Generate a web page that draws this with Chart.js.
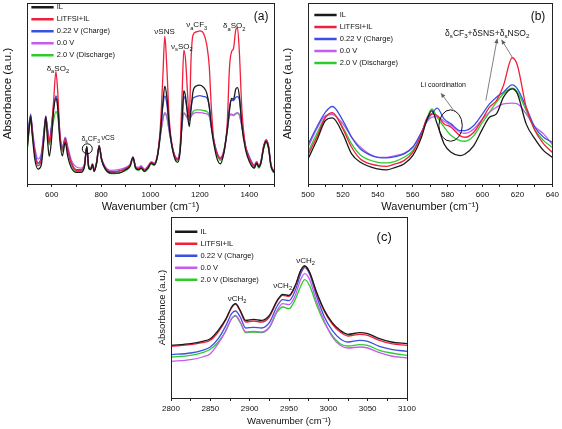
<!DOCTYPE html>
<html><head><meta charset="utf-8">
<script src="https://cdn.jsdelivr.net/npm/chart.js@4.4.1/dist/chart.umd.min.js"></script>
<style>
html,body{margin:0;padding:0;background:#fff;}
#wrap{position:relative;width:562px;height:429px;overflow:hidden;background:#fff;}
.p{position:absolute;}
</style></head><body>
<div id="wrap">
<div class="p" style="left:0;top:0;width:280px;height:220px"><canvas id="ca"></canvas></div>
<div class="p" style="left:280px;top:0;width:282px;height:220px"><canvas id="cb"></canvas></div>
<div class="p" style="left:130px;top:215px;width:300px;height:214px"><canvas id="cc"></canvas></div>
</div>
<script>
const FONT = 'Liberation Sans, Arial, Helvetica, sans-serif';
Chart.defaults.font.family = FONT;

const seriesNames = ['IL', 'LiTFSI+IL', '0.22 V (Charge)', '0.0 V', '2.0 V (Discharge)'];
const seriesColors = ['#1a1a1a', '#f0203c', '#3a50e0', '#c55cf0', '#2ccc2c'];

// ---------- Panel (a) ----------
const waveA = [500,508,515,522,532,545,558,568,576,583,590,598,608,617,624,633,643,655,665,680,
  700,720,733,742,750,758,765,772,782,792,802,815,840,870,900,918,929,940,952,962,
  975,990,1003,1015,1028,1040,1050,1058,1066,1076,1088,1100,1110,1120,1128,1135,1142,1150,1157,1164,
  1172,1185,1200,1215,1228,1238,1246,1256,1270,1283,1297,1310,1320,1328,1336,1345,1352,1360,1370,1385,
  1400,1420,1430,1438,1447,1458,1468,1478,1488,1500];
const a_IL = [98,163,203,143,73,45,58,133,203,133,83,123,223,258,233,133,85,125,83,48,
  35,35,53,113,48,43,58,38,63,113,73,48,33,33,43,55,80,48,43,48,
  38,48,63,58,83,153,243,295,263,173,108,73,65,98,193,281,263,208,173,223,
  278,295,298,291,273,233,173,123,75,61,93,158,223,258,255,285,290,263,173,103,
  68,48,63,51,63,108,128,108,53,35];
const a_LiTFSI = [103,168,203,153,88,55,73,143,201,158,123,158,253,338,283,153,103,135,103,63,
  41,41,58,110,51,45,60,41,66,116,75,51,36,38,46,58,81,50,46,51,
  41,51,65,61,85,173,323,445,353,193,113,81,73,113,273,403,373,273,193,373,
  448,458,461,453,418,353,233,133,91,75,98,173,353,398,408,463,471,393,223,113,
  78,53,65,53,66,113,133,113,56,38];
const a_Charge = [123,178,210,158,98,63,83,153,205,163,128,168,233,265,248,148,108,138,103,63,
  43,43,58,111,51,45,60,41,66,116,75,51,37,39,47,58,81,50,46,51,
  41,51,65,61,85,153,233,265,243,168,113,81,75,108,193,263,253,218,198,233,
  258,263,266,263,260,233,183,133,93,77,98,163,233,253,251,261,263,253,183,113,
  80,55,65,53,66,113,133,113,56,38];
const a_Zero = [123,178,205,163,108,75,93,153,198,168,133,163,233,261,243,153,113,141,113,71,
  51,48,63,111,53,48,61,45,68,115,78,55,41,43,50,60,81,53,50,55,
  45,55,67,63,88,148,193,215,203,158,113,83,78,108,183,215,208,198,191,203,
  211,215,215,213,211,203,173,133,93,80,101,158,208,211,208,213,215,208,173,113,
  83,58,68,56,68,113,133,113,58,41];
const a_Discharge = [93,158,191,148,93,61,78,133,183,153,118,148,193,218,208,143,98,133,98,58,
  38,38,56,113,47,43,57,37,63,110,71,46,31,33,41,53,78,46,41,46,
  37,46,60,56,81,143,193,213,201,158,108,77,71,103,178,213,208,198,191,203,
  218,223,223,221,218,208,173,128,88,71,93,153,205,208,206,211,213,208,173,108,
  73,48,61,48,61,105,125,105,50,33];
const tickLabelsA = [600, 800, 1000, 1200, 1400];

// ---------- Panel (b) ----------
const waveB = [500,505,510,514,520,525,530,540,545,550,555,560,565,568,571,574,578,582,587,590,
  595,600,604,608,612,617,620,625,630,635,640];
const b_IL = [75,130,190,198,150,90,65,45,42,50,60,85,140,190,220,180,120,95,85,90,
  115,165,200,210,260,285,270,180,135,100,80];
const b_LiTFSI = [88,140,200,214,165,110,75,55,53,60,70,95,150,195,210,205,180,170,145,140,
  155,195,230,250,295,378,355,230,160,120,95];
const b_Charge = [118,170,215,232,190,140,105,80,78,82,90,110,155,190,210,227,195,180,160,160,
  175,210,240,260,275,297,285,230,170,140,125];
const b_Zero = [110,165,205,208,180,140,110,80,80,85,92,110,155,185,200,202,188,175,155,152,
  165,195,215,230,240,242,240,210,172,150,118];
const b_Discharge = [95,150,200,210,170,120,87,65,63,68,80,100,150,195,225,200,170,145,130,128,
  145,185,215,245,270,287,275,220,162,130,110];
const tickLabelsB = [500, 520, 540, 560, 580, 600, 620, 640];

// ---------- Panel (c) ----------
const waveC = [2800,2825,2840,2850,2860,2870,2877,2882,2888,2895,2905,2915,2925,2935,2942,2950,2958,2965,2970,2976,
  2985,2995,3005,3015,3025,3040,3050,3065,3080,3100];
const c_IL = [158,163,170,178,203,238,273,283,263,233,236,233,248,293,311,308,338,383,396,378,
  318,263,226,203,191,196,193,178,168,163];
const c_LiTFSI = [155,160,166,173,198,236,270,282,260,228,231,228,243,290,308,305,336,383,396,378,
  316,260,222,198,186,191,188,173,163,158];
const c_Charge = [130,135,143,153,178,218,253,261,243,210,212,210,226,276,295,292,323,373,391,373,
  306,243,203,178,168,173,170,155,146,140];
const c_Zero = [110,115,123,133,163,203,238,248,228,198,200,198,213,263,283,280,308,356,373,356,
  290,230,183,158,150,153,150,136,126,120];
const c_Discharge = [123,128,136,146,168,203,238,246,226,196,198,196,211,258,273,268,296,336,355,338,
  280,226,188,163,156,160,158,143,135,128];
const tickLabelsC = [2800, 2850, 2900, 2950, 3000, 3050, 3100];

// ---------- helpers ----------
function richText(ctx, parts, x, yMid, size) {
  let w = 0;
  const segs = parts.map(([t, s]) => {
    const fs = s ? size * 0.72 : size;
    ctx.font = fs + 'px ' + FONT;
    const mw = ctx.measureText(t).width;
    w += mw;
    return {t, s, fs, mw};
  });
  let cx = x - w / 2;
  const base = yMid + size * 0.36;
  ctx.textAlign = 'left';
  ctx.textBaseline = 'alphabetic';
  for (const g of segs) {
    ctx.font = g.fs + 'px ' + FONT;
    ctx.fillText(g.t, cx, base + (g.s ? size * 0.3 : 0));
    cx += g.mw;
  }
}

function notesPlugin(notes) {
  return {
    id: 'notes',
    afterDatasetsDraw(chart) {
      const {ctx, scales: {x, y}, chartArea: ca} = chart;
      ctx.save();
      ctx.strokeStyle = '#222';
      ctx.lineWidth = 1;
      ctx.strokeRect(Math.round(ca.left) + 0.5, Math.round(ca.top) + 0.5,
        Math.round(ca.right - ca.left), Math.round(ca.bottom - ca.top));
      ctx.fillStyle = '#111';
      for (const n of notes.texts || []) {
        richText(ctx, n.parts, x.getPixelForValue(n.x), y.getPixelForValue(n.y), n.size);
      }
      for (const e of notes.ellipses || []) {
        ctx.beginPath();
        ctx.ellipse(x.getPixelForValue(e.x), y.getPixelForValue(e.y), e.rx, e.ry, 0, 0, Math.PI * 2);
        ctx.strokeStyle = '#111';
        ctx.lineWidth = 1;
        ctx.stroke();
      }
      for (const a of notes.arrows || []) {
        const x1 = x.getPixelForValue(a.x1), y1 = y.getPixelForValue(a.y1);
        const x2 = x.getPixelForValue(a.x2), y2 = y.getPixelForValue(a.y2);
        ctx.strokeStyle = '#808080';
        ctx.fillStyle = '#606060';
        ctx.lineWidth = 1;
        ctx.beginPath(); ctx.moveTo(x1, y1); ctx.lineTo(x2, y2); ctx.stroke();
        const ang = Math.atan2(y2 - y1, x2 - x1), L = 5, W = 0.45;
        ctx.beginPath();
        ctx.moveTo(x2, y2);
        ctx.lineTo(x2 - L * Math.cos(ang - W), y2 - L * Math.sin(ang - W));
        ctx.lineTo(x2 - L * Math.cos(ang + W), y2 - L * Math.sin(ang + W));
        ctx.closePath(); ctx.fill();
      }
      ctx.restore();
    }
  };
}

function legendPos(dx, dy) {
  return {
    id: 'legendPos',
    afterLayout(chart) {
      const lg = chart.legend, ca = chart.chartArea;
      if (!lg) return;
      const w = lg.width, h = lg.height;
      lg.left = ca.left + dx; lg.top = ca.top + dy;
      lg.right = lg.left + w; lg.bottom = lg.top + h;
    }
  };
}

function makeChart(id, xs, series, cfg) {
  const datasets = series.map((arr, i) => ({
    label: seriesNames[i],
    data: xs.map((xv, j) => ({x: xv, y: arr[j]})),
    borderColor: seriesColors[i],
    backgroundColor: seriesColors[i],
    borderWidth: 1.3,
    pointRadius: 0,
    cubicInterpolationMode: 'monotone',
    fill: false
  }));
  return new Chart(document.getElementById(id), {
    type: 'line',
    data: {datasets},
    options: {
      animation: false,
      responsive: true,
      maintainAspectRatio: false,
      devicePixelRatio: 1,
      layout: {padding: cfg.pad},
      plugins: {
        legend: {
          position: 'chartArea', align: 'start',
          labels: {boxWidth: 21, boxHeight: 1, padding: 4.5, color: '#111', font: {size: 7.5}}
        },
        tooltip: {enabled: false}
      },
      scales: {
        x: {
          type: 'linear', min: cfg.xmin, max: cfg.xmax,
          afterFit: s => { s.height = cfg.xh; },
          ticks: {
            stepSize: cfg.step, autoSkip: false, maxRotation: 0, minRotation: 0,
            color: '#111', font: {size: 8}, padding: 3,
            callback: v => cfg.labels.includes(v) ? String(v) : ''
          },
          grid: {display: true, drawOnChartArea: false, drawTicks: true, tickLength: 3, color: '#222'},
          border: {display: false},
          title: {display: true, text: 'Wavenumber (cm\u207B\u00B9)', color: '#111',
            font: {size: cfg.xtSize}, padding: {top: 0, bottom: cfg.xtPad}}
        },
        y: {
          min: 0, max: cfg.ymax,
          afterFit: s => { s.width = cfg.yw; },
          ticks: {display: false},
          grid: {display: false},
          border: {display: false},
          title: {display: true, text: 'Absorbance (a.u.)', color: '#111',
            font: {size: cfg.ytSize}, padding: {top: cfg.ytPad, bottom: 0}}
        }
      }
    },
    plugins: [legendPos(cfg.ldx, cfg.ldy), notesPlugin(cfg.notes)]
  });
}

makeChart('ca', waveA, [a_IL, a_LiTFSI, a_Charge, a_Zero, a_Discharge], {
  pad: {left: 0, top: 3, right: 6, bottom: 0},
  xmin: 500, xmax: 1500, step: 100, labels: tickLabelsA, xh: 36, ymax: 545, yw: 27,
  xtSize: 11, xtPad: 6.4, ytSize: 11.5, ytPad: 1.1, ldx: 0.5, ldy: -4,
  notes: {
    texts: [
      {x: 625, y: 349, size: 8, parts: [['δ', 0], ['a', 1], ['SO', 0], ['2', 1]]},
      {x: 758, y: 136, size: 7, parts: [['δ', 0], ['s', 1], ['CF', 0], ['3', 1]]},
      {x: 828, y: 139, size: 7, parts: [['νCS', 0]]},
      {x: 1057, y: 460, size: 8, parts: [['νSNS', 0]]},
      {x: 1127, y: 415, size: 8, parts: [['ν', 0], ['s', 1], ['SO', 0], ['2', 1]]},
      {x: 1187, y: 481, size: 8, parts: [['ν', 0], ['a', 1], ['CF', 0], ['3', 1]]},
      {x: 1339, y: 478, size: 8, parts: [['δ', 0], ['a', 1], ['SO', 0], ['2', 1]]},
      {x: 1448, y: 508, size: 12, parts: [['(a)', 0]]}
    ],
    ellipses: [{x: 744, y: 106, rx: 5, ry: 5}]
  }
});

makeChart('cb', waveB, [b_IL, b_LiTFSI, b_Charge, b_Zero, b_Discharge], {
  pad: {left: 0, top: 3, right: 9, bottom: 0},
  xmin: 500, xmax: 640, step: 10, labels: tickLabelsB, xh: 36, ymax: 542, yw: 28,
  xtSize: 11, xtPad: 6.4, ytSize: 11.5, ytPad: 1.4, ldx: 2.5, ldy: 3.75,
  notes: {
    texts: [
      {x: 631.8, y: 505, size: 12, parts: [['(b)', 0]]},
      {x: 602.7, y: 453, size: 8.5, parts: [['δ', 0], ['s', 1], ['CF', 0], ['3', 1], ['+δSNS+δ', 0], ['s', 1], ['NSO', 0], ['2', 1]]},
      {x: 577.5, y: 297, size: 7, parts: [['Li coordination', 0]]}
    ],
    ellipses: [{x: 581.7, y: 175, rx: 11.7, ry: 15.7}],
    arrows: [
      {x1: 601.9, y1: 250, x2: 608.4, y2: 435},
      {x1: 617, y1: 380, x2: 610.9, y2: 432},
      {x1: 584.2, y1: 215, x2: 576.2, y2: 272}
    ]
  }
});

makeChart('cc', waveC, [c_IL, c_LiTFSI, c_Charge, c_Zero, c_Discharge], {
  pad: {left: 0, top: 2, right: 23, bottom: 0},
  xmin: 2800, xmax: 3100, step: 25, labels: tickLabelsC, xh: 31, ymax: 543, yw: 41,
  xtSize: 9.5, xtPad: 1.6, ytSize: 9.5, ytPad: 26.8, ldx: 0.2, ldy: 6.5,
  notes: {
    texts: [
      {x: 3071, y: 486, size: 13, parts: [['(c)', 0]]},
      {x: 2884, y: 300, size: 8, parts: [['νCH', 0], ['2', 1]]},
      {x: 2942, y: 340, size: 8, parts: [['νCH', 0], ['2', 1]]},
      {x: 2971, y: 414, size: 8, parts: [['νCH', 0], ['2', 1]]}
    ]
  }
});
</script>
</body></html>
